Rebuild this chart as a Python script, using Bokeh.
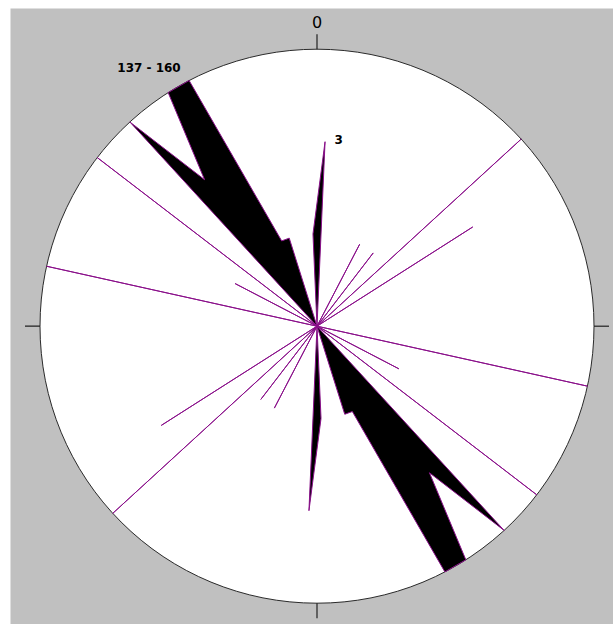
import numpy as np
from bokeh.plotting import figure
from bokeh.models import Range1d
from bokeh.core.properties import value
from bokeh.embed import file_html
from bokeh.resources import INLINE

# Axial (0-180 deg) orientation counts in 5-degree bins; bin centres at 2.5, 7.5, ...
bin_width = 5.0
bin_centres = [2.5 + bin_width * i for i in range(36)]
counts = [2, 0, 0, 0, 0, 1, 0, 1, 0, 3, 0, 2,
          0, 0, 0, 0, 0, 0, 0, 0, 3, 0, 0, 1,
          0, 3, 0, 3, 2, 3, 3, 1, 1, 0, 0, 1]
max_count = 3

north_label = "0"
peak_label = "137 - 160"
tip_label = "3"

# --- layout (pixels) ---
W, H = 613, 624
LEFT_PAD, TOP_PAD = 10, 8
CX, CY = 316.5, 325.7          # centre of the rose in page pixels
R_PX = 277.0                   # outer circle radius in pixels
K = R_PX / max_count           # pixels per count

x0 = (LEFT_PAD - CX) / K
x1 = (W - CX) / K
y0 = (CY - H) / K
y1 = (CY - TOP_PAD) / K

p = figure(width=W, height=H, output_backend="svg", toolbar_location=None,
           x_range=Range1d(x0, x1), y_range=Range1d(y0, y1),
           min_border_left=LEFT_PAD, min_border_top=TOP_PAD,
           min_border_right=0, min_border_bottom=0)
p.axis.visible = False
p.grid.visible = False
p.outline_line_color = None
p.background_fill_color = "#C0C0C0"
p.border_fill_color = "white"

# outer circle
p.ellipse(x=0, y=0, width=2 * max_count, height=2 * max_count,
          fill_color="white", line_color="#2a2a2a", line_width=1)

# cardinal ticks
tick = 15.0 / K
r = max_count
p.segment(x0=[0, 0, -r, r], y0=[r, -r, 0, 0],
          x1=[0, 0, -r - tick, r + tick], y1=[r + tick, -r - tick, 0, 0],
          line_color="#202020", line_width=1.2)

# bidirectional frequency polygon
az = np.radians(np.array(bin_centres + [c + 180.0 for c in bin_centres]))
rad = np.array(counts + counts, dtype=float)
px = rad * np.sin(az)
py = rad * np.cos(az)
p.patch(x=list(px), y=list(py), fill_color="black", line_color="#8a108a",
        line_width=1)

# labels
p.text(x=[(316.7 - CX) / K], y=[(CY - 21) / K], text=[north_label],
       text_font=value("DejaVu Sans"), text_font_size="16px",
       text_align="center", text_baseline="middle", text_color="black")
p.text(x=[(148.5 - CX) / K], y=[(CY - 67) / K], text=[peak_label],
       text_font=value("DejaVu Sans"), text_font_size="12px",
       text_font_style="bold", text_align="center", text_baseline="middle",
       text_color="black")
p.text(x=[(334 - CX) / K], y=[(CY - 139) / K], text=[tip_label],
       text_font=value("DejaVu Sans"), text_font_size="12px",
       text_font_style="bold", text_align="left", text_baseline="middle",
       text_color="black")

open("out.html", "w").write(file_html(p, INLINE))
